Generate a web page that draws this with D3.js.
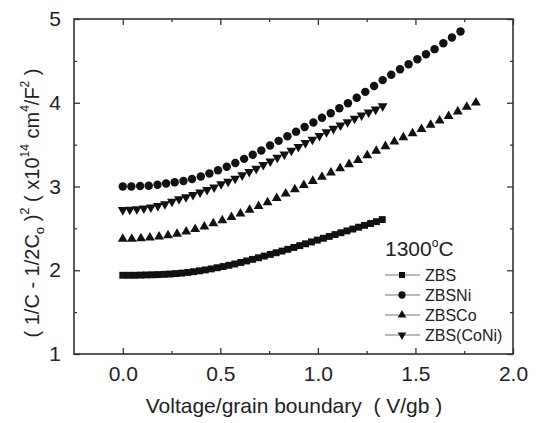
<!DOCTYPE html>
<html>
<head>
<meta charset="utf-8">
<style>
  body { margin: 0; background: #fff; }
  svg { font-family: "Liberation Sans", Arial, sans-serif; }
</style>
<script src="https://cdn.jsdelivr.net/npm/d3@7"></script>
</head>
<body>
<div id="chart"></div>
<script>
// data
var zbsV = [0.000,0.030,0.060,0.091,0.121,0.151,0.181,0.212,0.242,0.272,0.302,0.333,0.363,0.393,0.423,
            0.453,0.484,0.514,0.544,0.574,0.605,0.635,0.665,0.695,0.725,0.756,0.786,0.816,0.846,0.877,
            0.907,0.937,0.967,0.997,1.028,1.058,1.088,1.118,1.149,1.179,1.209,1.239,1.270,1.300,1.330];
var zbsY = [1.940,1.940,1.940,1.942,1.944,1.946,1.948,1.951,1.955,1.960,1.966,1.974,1.983,1.993,2.004,
            2.016,2.030,2.044,2.059,2.075,2.093,2.111,2.130,2.149,2.169,2.189,2.209,2.229,2.250,2.272,
            2.294,2.316,2.338,2.360,2.382,2.404,2.426,2.448,2.470,2.492,2.514,2.536,2.558,2.580,2.605];

var niV = [0.000,0.044,0.089,0.133,0.178,0.222,0.266,0.311,0.355,0.400,0.444,0.488,0.533,0.577,0.622,
           0.666,0.710,0.755,0.799,0.844,0.888,0.932,0.977,1.021,1.066,1.110,1.154,1.199,1.243,1.288,
           1.332,1.376,1.421,1.465,1.510,1.554,1.598,1.643,1.687,1.731];
var niY = [3.000,3.000,3.005,3.010,3.020,3.035,3.050,3.065,3.090,3.120,3.155,3.195,3.235,3.280,3.330,
           3.380,3.430,3.490,3.545,3.600,3.655,3.710,3.765,3.820,3.875,3.935,3.995,4.060,4.130,4.200,
           4.270,4.335,4.400,4.460,4.520,4.580,4.640,4.710,4.780,4.850];

var coV = [0.000,0.046,0.093,0.139,0.186,0.232,0.278,0.325,0.371,0.418,0.464,0.510,0.557,0.603,0.650,
           0.696,0.742,0.789,0.835,0.882,0.928,0.974,1.021,1.067,1.114,1.160,1.206,1.253,1.299,1.346,
           1.392,1.438,1.485,1.531,1.578,1.624,1.670,1.717,1.763,1.810];
var coY = [2.375,2.375,2.380,2.390,2.400,2.415,2.435,2.460,2.490,2.520,2.560,2.595,2.635,2.675,2.720,
           2.765,2.810,2.860,2.915,2.965,3.015,3.065,3.115,3.165,3.215,3.265,3.315,3.370,3.425,3.480,
           3.535,3.585,3.635,3.685,3.735,3.785,3.840,3.895,3.950,4.000];

var coniV = [0.000,0.036,0.072,0.108,0.144,0.180,0.216,0.252,0.288,0.324,0.360,0.396,0.432,0.468,0.504,
             0.540,0.576,0.612,0.648,0.684,0.720,0.756,0.792,0.828,0.864,0.900,0.936,0.972,1.008,1.044,
             1.080,1.116,1.152,1.188,1.224,1.260,1.296,1.332];
var coniY = [2.720,2.725,2.730,2.740,2.750,2.770,2.790,2.820,2.850,2.875,2.900,2.930,2.960,2.990,3.030,
             3.060,3.095,3.135,3.175,3.215,3.260,3.300,3.345,3.385,3.430,3.475,3.520,3.560,3.605,3.650,
             3.690,3.730,3.770,3.810,3.850,3.885,3.920,3.960];

var seriesNames = ["ZBS", "ZBSNi", "ZBSCo", "ZBS(CoNi)"];
var xMajor = [0, 0.5, 1.0, 1.5, 2.0];
var xMinor = [0.25, 0.75, 1.25, 1.75];
var yMajor = [1, 2, 3, 4, 5];
var yMinor = [1.5, 2.5, 3.5, 4.5];

var W = 536, H = 423;
var margin = {top: 19, right: 23, bottom: 69, left: 74},
    width = W - margin.left - margin.right,
    height = H - margin.top - margin.bottom;

var svg = d3.select("#chart").append("svg")
    .attr("width", W)
    .attr("height", H);

var g = svg.append("g")
    .attr("transform", "translate(" + margin.left + "," + margin.top + ")");

var x = d3.scaleLinear().domain([-0.25, 2.0]).range([0, width]);
var y = d3.scaleLinear().domain([1, 5]).range([height, 0]);

// axes, ticks inside on all four sides
function fmtX(d) { return d3.format(".1f")(d); }
g.append("g").attr("class", "ax")
  .attr("transform", "translate(0," + height + ")")
  .call(d3.axisBottom(x).tickValues(xMajor).tickSizeInner(-6).tickSizeOuter(0).tickPadding(12).tickFormat(fmtX));
g.append("g").attr("class", "ax")
  .attr("transform", "translate(0," + height + ")")
  .call(d3.axisBottom(x).tickValues(xMinor).tickSizeInner(-3).tickSizeOuter(0).tickFormat(""));
g.append("g").attr("class", "ax")
  .call(d3.axisTop(x).tickValues(xMajor).tickSizeInner(-6).tickSizeOuter(0).tickFormat(""));
g.append("g").attr("class", "ax")
  .call(d3.axisTop(x).tickValues(xMinor).tickSizeInner(-3).tickSizeOuter(0).tickFormat(""));

g.append("g").attr("class", "ax")
  .call(d3.axisLeft(y).tickValues(yMajor).tickSizeInner(-6).tickSizeOuter(0).tickPadding(13).tickFormat(d3.format("d")));
g.append("g").attr("class", "ax")
  .call(d3.axisLeft(y).tickValues(yMinor).tickSizeInner(-3).tickSizeOuter(0).tickFormat(""));
g.append("g").attr("class", "ax")
  .attr("transform", "translate(" + width + ",0)")
  .call(d3.axisRight(y).tickValues(yMajor).tickSizeInner(-6).tickSizeOuter(0).tickFormat(""));
g.append("g").attr("class", "ax")
  .attr("transform", "translate(" + width + ",0)")
  .call(d3.axisRight(y).tickValues(yMinor).tickSizeInner(-3).tickSizeOuter(0).tickFormat(""));

g.selectAll(".ax .domain").remove();
g.selectAll(".ax line").attr("stroke", "#333").attr("stroke-width", 1.3);
g.selectAll(".ax text").attr("fill", "#222").style("font-size", "21px");

// frame
g.append("rect")
  .attr("width", width).attr("height", height)
  .attr("fill", "none").attr("stroke", "#333").attr("stroke-width", 1.6);

// markers
var sym = [
  {type: d3.symbolSquare, size: 48, rot: 0},
  {type: d3.symbolCircle, size: 56, rot: 0},
  {type: d3.symbolTriangle, size: 42, rot: 0},
  {type: d3.symbolTriangle, size: 42, rot: 180}
];
var allV = [zbsV, niV, coV, coniV];
var allY = [zbsY, niY, coY, coniY];

allV.forEach(function(vs, k) {
  var pts = vs.map(function(v, i) { return [v, allY[k][i]]; });
  g.append("g").selectAll("path").data(pts).enter().append("path")
    .attr("d", d3.symbol().type(sym[k].type).size(sym[k].size))
    .attr("transform", function(d) {
      return "translate(" + x(d[0]) + "," + y(d[1]) + ") rotate(" + sym[k].rot + ")";
    })
    .attr("fill", "#111");
});

// legend
var lg = svg.append("g");
var t = lg.append("text").attr("x", 385).attr("y", 256)
  .style("font-size", "21px").attr("fill", "#222");
t.append("tspan").text("1300");
t.append("tspan").text("o").style("font-size", "12px").attr("dy", -9);
t.append("tspan").text("C").attr("dy", 9);

seriesNames.forEach(function(name, k) {
  var yy = 275 + k * 20;
  lg.append("line").attr("x1", 385).attr("x2", 420).attr("y1", yy).attr("y2", yy)
    .attr("stroke", "#777").attr("stroke-width", 1);
  lg.append("path")
    .attr("d", d3.symbol().type(sym[k].type).size(sym[k].size * 0.75))
    .attr("transform", "translate(402," + yy + ") rotate(" + sym[k].rot + ")")
    .attr("fill", "#111");
  lg.append("text").attr("x", 425).attr("y", yy + 6)
    .style("font-size", "16px").attr("fill", "#222").text(name);
});

// x title
svg.append("text")
  .attr("x", 294).attr("y", 413)
  .attr("text-anchor", "middle")
  .style("font-size", "21px").attr("fill", "#222")
  .text("Voltage/grain boundary\u00a0\u00a0( V/gb )");

// y title
var yt = svg.append("text")
  .attr("transform", "translate(39,203) rotate(-90)")
  .attr("text-anchor", "middle")
  .style("font-size", "20px").attr("fill", "#222");
yt.append("tspan").text("( 1/C - 1/2C");
yt.append("tspan").text("o").style("font-size", "13px").attr("dy", 5);
yt.append("tspan").text(" )").attr("dy", -5);
yt.append("tspan").text("2").style("font-size", "13px").attr("dy", -10);
yt.append("tspan").text("\u00a0( x10").attr("dy", 10);
yt.append("tspan").text("14").style("font-size", "12px").attr("dy", -10);
yt.append("tspan").text("\u00a0cm").attr("dy", 10);
yt.append("tspan").text("4").style("font-size", "12px").attr("dy", -10);
yt.append("tspan").text("/F").attr("dy", 10);
yt.append("tspan").text("2").style("font-size", "12px").attr("dy", -10);
yt.append("tspan").text(" )").attr("dy", 10);
</script>
</body>
</html>
